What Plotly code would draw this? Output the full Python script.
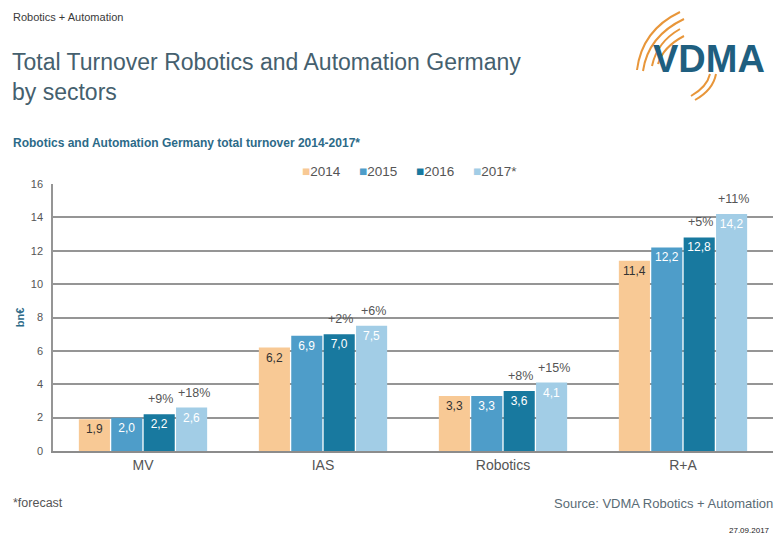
import plotly.graph_objects as go

# ---- data ----
categories = ["MV", "IAS", "Robotics", "R+A"]
years = ["2014", "2015", "2016", "2017*"]
v2014 = [1.9, 6.2, 3.3, 11.4]
v2015 = [2.0, 6.9, 3.3, 12.2]
v2016 = [2.2, 7.0, 3.6, 12.8]
v2017 = [2.6, 7.5, 4.1, 14.2]
growth2016 = ["+9%", "+2%", "+8%", "+5%"]
growth2017 = ["+18%", "+6%", "+15%", "+11%"]
y_ticks = [0, 2, 4, 6, 8, 10, 12, 14, 16]

series = [v2014, v2015, v2016, v2017]
colors = ["#F8C995", "#4E9DC9", "#18799F", "#A2CDE6"]
text_colors = ["#333333", "#FFFFFF", "#FFFFFF", "#FFFFFF"]

W, H = 774, 538
L, R, T, B = 53, 1, 184, 87
PW = W - L - R
PH = H - T - B


def px(x):
    return (x - L) / PW


def py(y):
    return (H - B - y) / PH


fig = go.Figure()
for name, vals, c, tc in zip(years, series, colors, text_colors):
    fig.add_trace(go.Bar(
        x=categories, y=vals, name=name, marker=dict(color=c, line=dict(width=0)),
        text=vals, texttemplate="%{y:.1f}", textposition="inside",
        insidetextanchor="end", textangle=0,
        textfont=dict(color=tc, size=12, family="Liberation Sans"),
        constraintext="none", hoverinfo="skip", showlegend=False,
    ))

# bar geometry for growth labels
bargap = 0.28
cat_w = PW / len(categories)
bar_w = cat_w * (1 - bargap) / 4
off2016 = -2 * bar_w + 2.5 * bar_w
off2017 = -2 * bar_w + 3.5 * bar_w

annotations = []
for i, cat in enumerate(categories):
    annotations.append(dict(x=cat, y=v2016[i], xref="x", yref="y", text=growth2016[i],
                            showarrow=False, xshift=off2016 + 1, yshift=6, yanchor="bottom",
                            font=dict(size=12.5, color="#555555", family="Liberation Sans")))
    annotations.append(dict(x=cat, y=v2017[i], xref="x", yref="y", text=growth2017[i],
                            showarrow=False, xshift=off2017 + 2, yshift=6, yanchor="bottom",
                            font=dict(size=12.5, color="#555555", family="Liberation Sans")))


def ptext(x, y, text, size, color, bold=False, xanchor="left", family="Liberation Sans"):
    t = f"<b>{text}</b>" if bold else text
    return dict(x=px(x), y=py(y), xref="paper", yref="paper", text=t, showarrow=False,
                xanchor=xanchor, yanchor="middle",
                font=dict(size=size, color=color, family=family))


# legend (compact, as in the reference)
leg_x = [300, 357, 414, 471]
for name, c, lx in zip(years, colors, leg_x):
    annotations.append(ptext(lx, 171, f"<span style='color:{c}'>■</span>{name}", 13.5, "#555555"))

annotations += [
    ptext(11, 17, "Robotics + Automation", 11, "#3a3a3a"),
    ptext(10, 62, "Total Turnover Robotics and Automation Germany", 23, "#45606E"),
    ptext(10, 92, "by sectors", 23, "#45606E"),
    ptext(11, 143, "Robotics and Automation Germany total turnover 2014-2017*", 12, "#2C6A88", bold=True),
    ptext(11, 503, "*forecast", 12.5, "#555555"),
    ptext(552, 503, "Source: VDMA Robotics + Automation", 13, "#5a6b75"),
    ptext(727, 530, "27.09.2017", 8, "#222222"),
    ptext(651, 59, "VDMA", 38, "#1F5F80", bold=True),
]

# VDMA logo arcs (decoration)
arcs = [
    ((637, 70), (642, 30), (680, 12)),
    ((643, 71), (648, 36), (684, 19)),
    ((652, 66), (657, 42), (680, 29)),
    ((658, 64), (663, 47), (684, 36)),
    ((716, 74), (713, 90), (695, 100)),
    ((710, 74), (707, 87), (691, 96)),
]
shapes = []
for (x0, y0), (cx, cy), (x1, y1) in arcs:
    path = f"M {px(x0)},{py(y0)} Q {px(cx)},{py(cy)} {px(x1)},{py(y1)}"
    shapes.append(dict(type="path", path=path, xref="paper", yref="paper",
                       line=dict(color="#E8963A", width=2)))

fig.update_layout(
    width=W, height=H,
    margin=dict(l=L, r=R, t=T, b=B, pad=0),
    barmode="group", bargap=bargap, bargroupgap=0.04,
    separators=",.",
    showlegend=False,
    paper_bgcolor="white", plot_bgcolor="white",
    font=dict(family="Liberation Sans", color="#555555"),
    annotations=annotations,
    shapes=shapes,
    xaxis=dict(showline=True, linecolor="#8c8c8c", linewidth=1.5, ticks="",
               tickfont=dict(size=14, color="#555555"), showgrid=False),
    yaxis=dict(range=[0, 16], tickvals=y_ticks, showgrid=True, gridcolor="#959595",
               gridwidth=1.5, showline=True, linecolor="#959595", linewidth=1.5,
               tickfont=dict(size=11, color="#555555"), ticks="", ticklabelstandoff=6,
               zeroline=False,
               title=dict(text="<b>bn€</b>", font=dict(size=11, color="#2C6A88"), standoff=4)),
)

fig.write_html("out.html", config={"displayModeBar": False},
               post_script="document.body.style.margin='0';document.body.style.overflow='hidden';")
